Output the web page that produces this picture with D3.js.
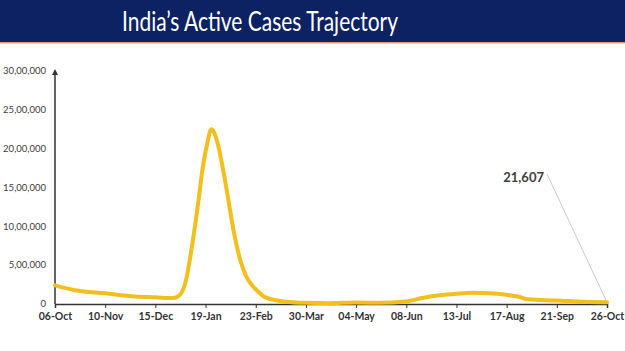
<!DOCTYPE html>
<html>
<head>
<meta charset="utf-8">
<script src="https://cdn.jsdelivr.net/npm/d3@7"></script>
<style>
  body { margin: 0; background: #fff; }
  svg { display: block; }
</style>
</head>
<body>
<svg id="chart"></svg>
<script>
const width = 625
const height = 351

// data (active cases)
const dates = ['2021-10-06','2021-10-20','2021-11-10','2021-12-01','2021-12-15','2021-12-27','2021-12-31',
  '2022-01-03','2022-01-05','2022-01-07','2022-01-10','2022-01-12','2022-01-14','2022-01-17','2022-01-20',
  '2022-01-23','2022-01-24','2022-01-27','2022-01-30','2022-02-02','2022-02-05','2022-02-08','2022-02-12',
  '2022-02-16','2022-02-20','2022-02-23','2022-03-01','2022-03-08','2022-03-15','2022-03-30','2022-04-15',
  '2022-05-04','2022-05-20','2022-06-08','2022-06-20','2022-07-01','2022-07-13','2022-07-24','2022-08-05',
  '2022-08-17','2022-08-25','2022-09-01','2022-09-21','2022-10-10','2022-10-26']
const active = [240000,178000,138000,98000,86000,76000,100000,
  170000,280000,460000,800000,1050000,1320000,1750000,2050000,
  2250000,2240000,2100000,1850000,1550000,1220000,900000,580000,
  370000,250000,190000,93000,52000,33000,15000,11000,
  19000,15000,33000,80000,112000,133000,145000,139000,
  118000,97000,60000,45000,28000,21607]

const xTicks = ['2021-10-06','2021-11-10','2021-12-15','2022-01-19','2022-02-23','2022-03-30',
  '2022-05-04','2022-06-08','2022-07-13','2022-08-17','2022-09-21','2022-10-26']
const yTicks = [0,500000,1000000,1500000,2000000,2500000,3000000]
const yTickLabels = ['0','5,00,000','10,00,000','15,00,000','20,00,000','25,00,000','30,00,000']

const title = 'India\u2019s Active Cases Trajectory'
const callout = '21,607'

const parse = d3.timeParse('%Y-%m-%d')
const series = dates.map((d, i) => ({date: parse(d), value: active[i]}))

const svg = d3.select('#chart').attr('width', width).attr('height', height)

// header band
svg.append('rect').attr('x', 0).attr('y', 0).attr('width', width).attr('height', 42).attr('fill', '#0c2262')
svg.append('rect').attr('x', 0).attr('y', 42).attr('width', width).attr('height', 1.5).attr('fill', '#e09a78')
svg.append('text').attr('x', 260).attr('y', 31).attr('text-anchor', 'middle')
  .attr('font-family', 'Lato, sans-serif').attr('font-size', 27).attr('fill', '#fff')
  .attr('textLength', 276).attr('lengthAdjust', 'spacingAndGlyphs')
  .text(title)

// scales
const x = d3.scaleTime().domain([parse('2021-10-06'), parse('2022-10-26')]).range([55, 607])
const y = d3.scaleLinear().domain([0, 3000000]).range([304, 71])

// y axis labels
svg.append('g').selectAll('text').data(yTicks).enter().append('text')
  .attr('x', 46).attr('y', d => y(d)).attr('dy', '0.35em')
  .attr('text-anchor', 'end').attr('font-family', 'Lato, sans-serif').attr('font-size', 9.5)
  .attr('fill', '#404040')
  .text((d, i) => yTickLabels[i])

// x axis
const xAxis = d3.axisBottom(x).tickValues(xTicks.map(parse)).tickSize(4).tickPadding(5)
  .tickFormat(d3.timeFormat('%d-%b'))
const gx = svg.append('g').attr('transform', 'translate(0,304)').call(xAxis)
gx.select('.domain').attr('stroke', '#333').attr('stroke-width', 1.5)
gx.selectAll('.tick line').attr('stroke', '#333')
gx.selectAll('.tick text').attr('font-family', 'Lato, sans-serif').attr('font-size', 10.5)
  .attr('font-weight', 'bold').attr('fill', '#333')

// y axis line with arrow
svg.append('defs').append('marker').attr('id', 'arrow').attr('viewBox', '0 0 10 10')
  .attr('refX', 5).attr('refY', 5).attr('markerWidth', 4).attr('markerHeight', 4).attr('orient', 'auto')
  .append('path').attr('d', 'M0,0L10,5L0,10z').attr('fill', '#333')
svg.append('line').attr('x1', 55).attr('x2', 55).attr('y1', 304).attr('y2', 72)
  .attr('stroke', '#333').attr('stroke-width', 1.5).attr('marker-end', 'url(#arrow)')

// line
const line = d3.line().x(d => x(d.date)).y(d => y(d.value)).curve(d3.curveMonotoneX)
svg.append('path').datum(series).attr('d', line).attr('fill', 'none')
  .attr('stroke', '#f2bf1f').attr('stroke-width', 4).attr('stroke-linejoin', 'round').attr('stroke-linecap', 'round')

// callout
const last = series[series.length - 1]
svg.append('line').attr('x1', 547).attr('y1', 174).attr('x2', x(last.date)).attr('y2', y(last.value))
  .attr('stroke', '#bdbdbd').attr('stroke-width', 0.8)
svg.append('text').attr('x', 544).attr('y', 182).attr('text-anchor', 'end')
  .attr('font-family', 'Lato, sans-serif').attr('font-size', 13).attr('font-weight', 'bold').attr('fill', '#404040')
  .text(callout)
</script>
</body>
</html>
